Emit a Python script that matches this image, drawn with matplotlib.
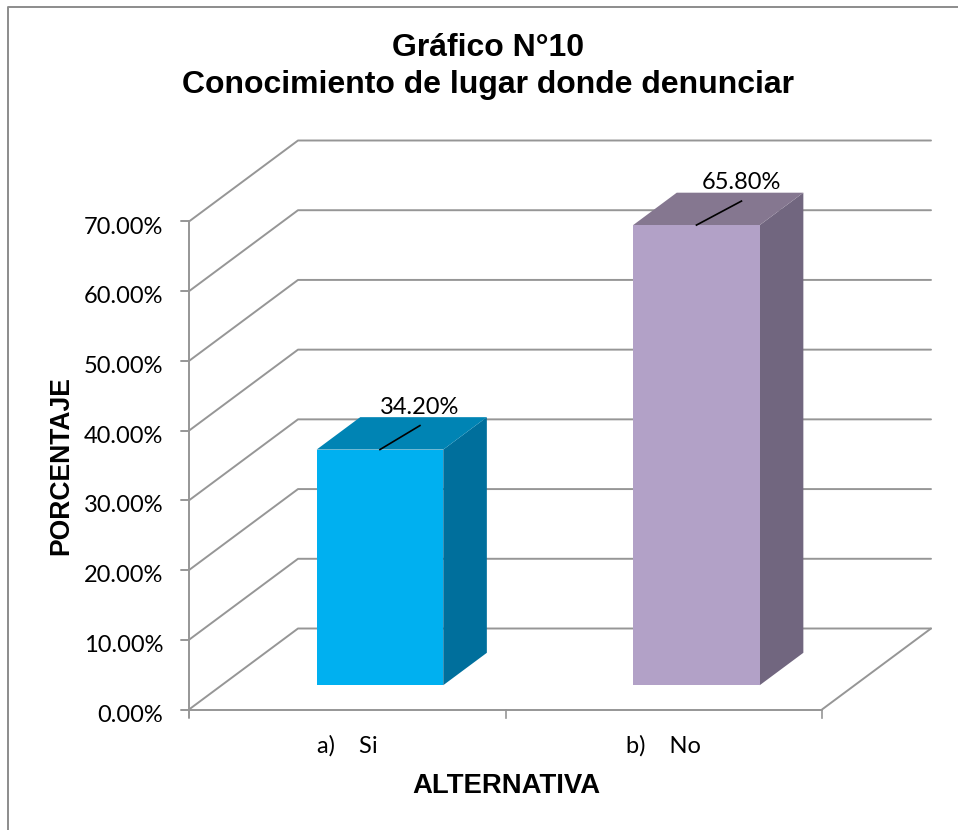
import matplotlib
matplotlib.use("Agg")
import matplotlib.pyplot as plt
from matplotlib.patches import Polygon

categories = ["a)    Si", "b)    No"]
bar_heights = [33.8, 66.0]
value_labels = ["34.20%", "65.80%"]
y_ticks = [0, 10, 20, 30, 40, 50, 60, 70]
y_tick_labels = ["0.00%", "10.00%", "20.00%", "30.00%", "40.00%", "50.00%", "60.00%", "70.00%"]
title = "Gráfico N°10\nConocimiento de lugar donde denunciar"
x_label = "ALTERNATIVA"
y_label = "PORCENTAJE"

W, H = 958, 830
GRID = "#969696"
fig = plt.figure(figsize=(W / 100, H / 100), dpi=100, facecolor="white")

# Front plane of the 3-D box in pixels
L, R, T, B = 189, 822, 221.5, 709.5
ax = fig.add_axes([L / W, 1 - B / H, (R - L) / W, (B - T) / H])
ax.set_xlim(0, 2)
ax.set_ylim(0, 70)
ax.patch.set_alpha(0)
for s in ax.spines.values():
    s.set_visible(False)

px = 2 / (R - L)
py = 70 / (B - T)
DX, DY = 109 * px, 81 * py


def proj(x, y, d=0.0):
    return (x + d * DX, y + d * DY)


ax.set_xticks([0, 1, 2], labels=[])
ax.set_yticks(y_ticks, labels=[])
ax.tick_params(length=0)

# Walls
line = dict(color=GRID, lw=1.4, clip_on=False, solid_capstyle="round", zorder=1)
for v in y_ticks:
    a, b, c = proj(0, v), proj(0, v, 1), proj(2, v, 1)
    ax.plot([a[0], b[0], c[0]], [a[1], b[1], c[1]], **line)
    ax.plot([-8 * px, 0], [v, v], **line)
a, b = proj(2, 0), proj(2, 0, 1)
ax.plot([a[0], b[0]], [a[1], b[1]], **line)
ax.plot([0, 2], [0, 0], **line)
ax.plot([0, 0], [-8 * py, 70], **line)
for t in [1, 2]:
    ax.plot([t, t], [-8 * py, 0], color=GRID, lw=1.2, clip_on=False, zorder=1)

# Bars
D0, D1 = 0.3, 0.7
BW = 0.4
styles = [("#00B0F0", "#0084B4", "#006F9C"), ("#B2A1C7", "#857790", "#71667F")]
leader_dx = [40, 45]
for i, (val, (cf, ct, cs)) in enumerate(zip(bar_heights, styles)):
    xl, xr = i + 0.5 - BW / 2, i + 0.5 + BW / 2
    front = [proj(xl, 0, D0), proj(xr, 0, D0), proj(xr, val, D0), proj(xl, val, D0)]
    top = [proj(xl, val, D0), proj(xr, val, D0), proj(xr, val, D1), proj(xl, val, D1)]
    side = [proj(xr, 0, D0), proj(xr, 0, D1), proj(xr, val, D1), proj(xr, val, D0)]
    for pts, c in ((side, cs), (top, ct), (front, cf)):
        ax.add_patch(Polygon(pts, closed=True, facecolor=c, edgecolor="none",
                             clip_on=False, zorder=3))
    # Leader line and label
    s = proj(i + 0.5, val, D0)
    e = (s[0] + leader_dx[i] * px, s[1] + 24 * py)
    ax.plot([s[0], e[0]], [s[1], e[1]], color="black", lw=1.2, clip_on=False, zorder=4)
    ax.text(e[0], e[1] + 18.5 * py, value_labels[i], ha="center", va="center",
            family="Lato", fontsize=17, color="black", zorder=5)

# Tick labels
for v, lab in zip(y_ticks, y_tick_labels):
    ax.text(-25.5 * px, v - 5.5 * py, lab, ha="right", va="center", family="Lato",
            fontsize=17, color="black", clip_on=False)
for i, lab in enumerate(categories):
    ax.text(i + 0.5, -36 * py, lab, ha="center", va="center", family="Lato",
            fontsize=17, color="black", clip_on=False)

# Titles
fig.text(488 / W, 1 - 66.5 / H, title, ha="center", va="center", family="Liberation Sans",
         fontweight="bold", fontsize=23, linespacing=1.32, color="black")
fig.text(506.5 / W, 1 - 786 / H, x_label, ha="center", va="center", family="Liberation Sans",
         fontweight="bold", fontsize=19.8, color="black")
fig.text(61 / W, 1 - 465.5 / H, y_label, ha="center", va="center", rotation=90,
         family="Liberation Sans", fontweight="bold", fontsize=19.1, color="black")

# Outer border
bl = 7.5 / W
bt = 1 - 7.5 / H
fig.add_artist(plt.Line2D([bl, bl, 1], [0, bt, bt], color="#8C8C8C", lw=1.4,
                          transform=fig.transFigure))

fig.savefig("out.png", dpi=100, facecolor="white")
